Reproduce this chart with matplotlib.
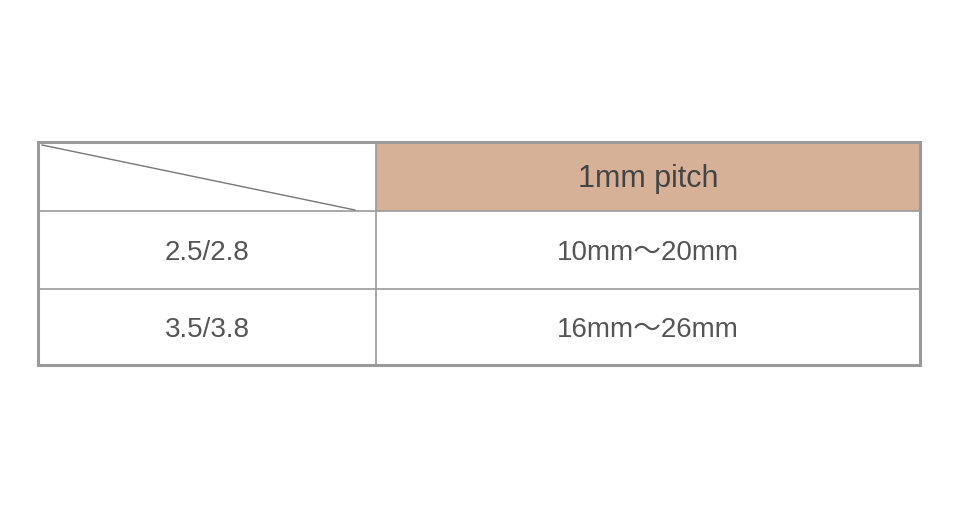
import matplotlib.pyplot as plt
from matplotlib.patches import Rectangle

# table content
header = "1mm pitch"
row_labels = ["2.5/2.8", "3.5/3.8"]
row_values = ["10mm～20mm", "16mm～26mm"]

# layout in pixels
W, H = 962, 508
X0, X1, XS = 38, 920, 376
ROW_Y = [142, 211, 289, 365]
GRAY = "#9a9a9a"
TEXT = "#555555"
FONTS = ["Liberation Sans", "Noto Sans CJK JP", "DejaVu Sans"]

fig = plt.figure(figsize=(W / 100, H / 100), dpi=100)
ax = fig.add_axes([0, 0, 1, 1])
ax.set_xlim(0, W)
ax.set_ylim(H, 0)
ax.axis("off")

# header fill
ax.add_patch(Rectangle((XS, ROW_Y[0]), X1 - XS, ROW_Y[1] - ROW_Y[0],
                       facecolor="#d6b197", edgecolor="none"))
# inner lines
for y in ROW_Y[1:-1]:
    ax.plot([X0, X1], [y, y], color=GRAY, lw=1.2)
ax.plot([XS, XS], [ROW_Y[0], ROW_Y[-1]], color=GRAY, lw=1.2)
# diagonal
ax.plot([42, 355], [145, 210], color="#777777", lw=1)
# outer border
ax.add_patch(Rectangle((X0, ROW_Y[0]), X1 - X0, ROW_Y[-1] - ROW_Y[0],
                       facecolor="none", edgecolor=GRAY, lw=2.2))

ax.text((XS + X1) / 2, (ROW_Y[0] + ROW_Y[1]) / 2 + 2, header, ha="center",
        va="center", fontsize=22, color="#444444", family=FONTS)
for i, (lab, val) in enumerate(zip(row_labels, row_values)):
    yc = (ROW_Y[i + 1] + ROW_Y[i + 2]) / 2 + 3
    ax.text((X0 + XS) / 2, yc, lab, ha="center", va="center", fontsize=20,
            color=TEXT, family=FONTS)
    ax.text((XS + X1) / 2, yc, val, ha="center", va="center", fontsize=20,
            color=TEXT, family=FONTS)

fig.savefig("out.png", dpi=100)
